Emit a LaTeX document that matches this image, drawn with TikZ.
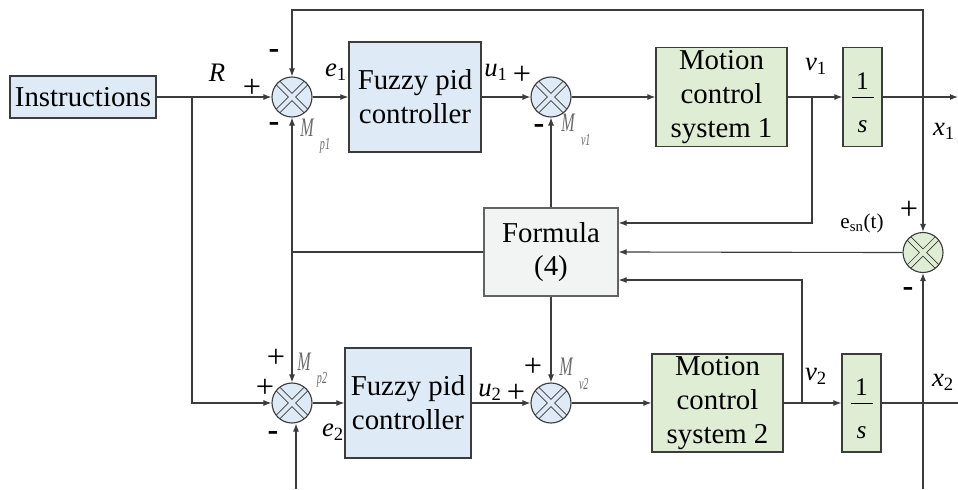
\documentclass[tikz,border=0pt]{standalone}
\usepackage{fontspec}
\setmainfont{Liberation Serif}
\usepackage{amsmath}
\usepackage{graphicx}
\usepackage{xcolor}
\usepackage{tikz}
\usetikzlibrary{
	arrows.meta,
	positioning,
	calc
}

\definecolor{boxblue}{HTML}{DEEAF6}
\definecolor{boxgreen}{HTML}{DFEDD5}
\definecolor{boxgray}{HTML}{F2F3F3}
\definecolor{linegray}{HTML}{3C3C3C}
\definecolor{labelgray}{HTML}{6A6A6A}

\newcommand{\sig}[2]{\textit{#1}\textsubscript{#2}}
\newcommand{\mlab}[2]{\textcolor{labelgray}{\scalebox{0.6}[1]{\textit{#1}}\hspace{4pt}\raisebox{-1.1ex}{\scalebox{0.6}[1]{\fontsize{12}{12}\selectfont\textit{#2}}}}}

\begin{document}
\begin{tikzpicture}[
		x=0.25mm, y=-0.25mm,
		>={Latex[length=2mm,width=1.5mm]},
		every node/.style={font=\fontsize{20.5}{24}\selectfont},
		block/.style={
			draw=linegray,
			line width=0.9pt,
			align=center,
			inner sep=0pt
		},
		ctrl/.style={
			block,
			fill=boxblue,
			minimum width=33mm,
			minimum height=27.5mm
		},
		plant/.style={
			block,
			fill=boxgreen,
			minimum width=32.75mm,
			minimum height=24.75mm
		},
		integ/.style={
			block,
			fill=boxgreen,
			minimum width=9.75mm,
			minimum height=24.75mm,
			font=\fontsize{18}{15.5}\selectfont
		},
		sumj/.style={
			circle,
			draw=linegray,
			line width=0.8pt,
			fill=#1,
			minimum size=10mm,
			inner sep=0pt,
			path picture={
				\draw[linegray, line width=0.6pt, double=#1, double distance=1mm]
				(path picture bounding box.south west) -- (path picture bounding box.north east)
				(path picture bounding box.north west) -- (path picture bounding box.south east);
			}
		},
		wire/.style={draw=linegray, line width=0.8pt},
		lbl/.style={font=\fontsize{19}{19}\selectfont, inner sep=0pt},
		sgn/.style={font=\fontsize{23}{23}\selectfont, inner sep=0pt}
		]
		
		\useasboundingbox (0,0) rectangle (958,489);
		
		% Top loop
		\node[block, fill=boxblue, minimum width=36.5mm, minimum height=10.5mm] (instr) at (83,97) {Instructions};
		\node[sumj=boxblue] (sum1) at (292,97) {};
		\node[ctrl] (fuzzy1) at (415,97) {Fuzzy pid\\controller};
		\node[sumj=boxblue] (sumv1) at (551,97) {};
		\node[plant] (mcs1) at (721.5,97) {Motion\\control\\system 1};
		\node[integ] (int1) at (862.5,97) {\rule{0pt}{20pt}1\\\rule[9.2pt]{5.5mm}{0.7pt}\\\textit{s}};
		
		% Coupling
		\node[block, fill=boxgray, draw=linegray!80, minimum width=33.5mm, minimum height=22mm] (formula) at (551,252) {Formula\\(4)};
		\node[sumj=boxgreen] (sum3) at (923,252.5) {};
		
		% Bottom loop
		\node[sumj=boxblue] (sum4) at (292,403) {};
		\node[ctrl, minimum width=31.5mm] (fuzzy2) at (408,403) {Fuzzy pid\\controller};
		\node[sumj=boxblue] (sumv2) at (551,403) {};
		\node[plant, minimum height=24.5mm] (mcs2) at (717.5,403) {Motion\\control\\system 2};
		\node[integ, minimum height=24.5mm] (int2) at (861.5,403) {\rule{0pt}{20pt}1\\\rule[9.2pt]{5.5mm}{0.7pt}\\\textit{s}};
		
		% Junctions
		\coordinate (rsplit) at (192,97);
		\coordinate (v1split) at (812,97);
		\coordinate (v2split) at (802,403);
		\coordinate (x1split) at (923,97);
		\coordinate (x1top) at (923,10);
		\coordinate (out1) at (958,97);
		\coordinate (out2) at (958,403);
		\coordinate (msplit) at (292,252);
		\coordinate (x2in) at (923,489);
		\coordinate (m2in) at (296,489);
		
		% Forward paths
		\foreach \a/\b in {instr/sum1,sum1/fuzzy1,fuzzy1/sumv1,sumv1/mcs1,mcs1/int1,
			sum4/fuzzy2,fuzzy2/sumv2,sumv2/mcs2,mcs2/int2}
		\draw[wire,->] (\a.east) -- (\b.west);
		\draw[wire,->] (int1.east) -- (out1);
		\draw[wire] (int2.east) -- (out2);
		\draw[wire,->] (rsplit) |- (sum4.west);
		
		% Feedback
		\draw[wire,->] (x1split) -- (x1top) -| (sum1.north);
		\draw[wire,->] (x1split) -- (sum3.north);
		\draw[wire,->] (x2in) -- (sum3.south);
		\draw[wire,->] (m2in) -- (m2in |- sum4.south);
		\draw[wire,->] (v1split) |- ([yshift=7.25mm]formula.east);
		\draw[wire,->] (v2split) |- ([yshift=-7mm]formula.east);
		\draw[wire,->] (sum3.west) -- (formula.east);
		\draw[wire] (formula.west) -- (msplit);
		\draw[wire,->] (msplit) -- (sum1.south);
		\draw[wire,->] (msplit) -- (sum4.north);
		\draw[wire,->] (formula.north) -- (sumv1.south);
		\draw[wire,->] (formula.south) -- (sumv2.north);
		
		% Labels
		\node[lbl] (lR) at (217,73) {\textit{R}};
		\node[sgn] (s1a) at (252,88) {+};
		\node[sgn] (s1b) at (274,54) {\textbf{-}};
		\node[sgn] (s1c) at (274,127) {\textbf{-}};
		\node[lbl, anchor=west] (lMp1) at (300,136) {\mlab{M}{p1}};
		\node[lbl] (le1) at (336,72) {\sig{e}{1}};
		\node[lbl] (lu1) at (496,72) {\sig{u}{1}};
		\node[sgn] (s2a) at (522,75) {+};
		\node[sgn] (s2b) at (539,129) {\textbf{-}};
		\node[lbl, anchor=west] (lMv1) at (561,130) {\mlab{M}{v1}};
		\node[lbl] (lv1) at (816,66) {\sig{v}{1}};
		\node[lbl] (lx1) at (944,131) {\sig{x}{1}};
		\node[lbl, font=\fontsize{15}{15}\selectfont] (lesn) at (862,223) {e\textsubscript{sn}(t)};
		\node[sgn] (s3a) at (909,210) {+};
		\node[sgn] (s3b) at (908,292) {\textbf{-}};
		\node[sgn] (s4a) at (276,358) {+};
		\node[sgn] (s4b) at (265,388) {+};
		\node[sgn] (s4c) at (273,436) {\textbf{-}};
		\node[lbl, anchor=west] (lMp2) at (297,370) {\mlab{M}{p2}};
		\node[lbl] (le2) at (333,432) {\sig{e}{2}};
		\node[lbl] (lu2) at (490,392) {\sig{u}{2}};
		\node[sgn] (s5a) at (516,393) {+};
		\node[sgn] (s5b) at (533,367) {+};
		\node[lbl, anchor=west] (lMv2) at (559,374) {\mlab{M}{v2}};
		\node[lbl] (lv2) at (816,376) {\sig{v}{2}};
		\node[lbl] (lx2) at (943,382) {\sig{x}{2}};
		
	\end{tikzpicture}
\end{document}
